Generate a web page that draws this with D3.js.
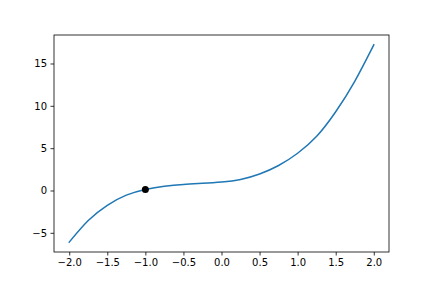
<!DOCTYPE html>
<html>
<head>
<meta charset="utf-8">
<script src="https://cdn.jsdelivr.net/npm/d3@7"></script>
<style>
  html, body { margin: 0; padding: 0; background: #fff; }
  svg { display: block; }
  text { font-family: "DejaVu Sans", sans-serif; }
</style>
</head>
<body>
<svg id="chart" width="432" height="288"></svg>
<script>
// Curve samples
const xValues = [-2.0, -1.75, -1.5, -1.25, -1.0, -0.75, -0.5, -0.25, 0.0, 0.25, 0.5, 0.75, 1.0, 1.25, 1.5, 1.75, 2.0];
const yValues = [-6.1, -3.55, -1.75, -0.55, 0.12, 0.5, 0.72, 0.85, 1.0, 1.3, 1.95, 2.95, 4.4, 6.4, 9.3, 12.9, 17.2];
// Highlighted point
const pointX = [-1.0];
const pointY = [0.12];
// Ticks
const xTicks = [-2.0, -1.5, -1.0, -0.5, 0.0, 0.5, 1.0, 1.5, 2.0];
const yTicks = [-5, 0, 5, 10, 15];

(function () {
const W = 432, H = 288;
const mLeft = 54, mRight = 389, mTop = 35, mBottom = 252;

const xMin = d3.min(xValues), xMax = d3.max(xValues);
const yMin = d3.min(yValues), yMax = d3.max(yValues);
const xPad = (xMax - xMin) * 0.05, yPad = (yMax - yMin) * 0.05;

const x = d3.scaleLinear().domain([xMin - xPad, xMax + xPad]).range([mLeft, mRight]);
const y = d3.scaleLinear().domain([yMin - yPad, yMax + yPad]).range([mBottom, mTop]);

const svg = d3.select("#chart");
svg.append("rect").attr("width", W).attr("height", H).attr("fill", "#fff");

const fmtMinus = s => s.replace("-", "\u2212");

const xAxis = svg.append("g")
  .attr("transform", `translate(0,${mBottom})`)
  .call(d3.axisBottom(x).tickValues(xTicks).tickSize(3.5).tickPadding(3.5)
        .tickFormat(d => fmtMinus(d3.format(".1f")(d))));
const yAxis = svg.append("g")
  .attr("transform", `translate(${mLeft},0)`)
  .call(d3.axisLeft(y).tickValues(yTicks).tickSize(3.5).tickPadding(3.5)
        .tickFormat(d => fmtMinus(d3.format("d")(d))));

[xAxis, yAxis].forEach(g => {
  g.select(".domain").remove();
  g.selectAll(".tick line").attr("stroke", "#000").attr("stroke-width", 0.8);
  g.selectAll(".tick text").attr("fill", "#000").style("font-size", "10px")
    .style("font-family", "'DejaVu Sans', sans-serif");
});

const pts = xValues.map((v, i) => [v, yValues[i]]);
const line = d3.line().x(d => x(d[0])).y(d => y(d[1])).curve(d3.curveNatural);

svg.append("path")
  .datum(pts)
  .attr("d", line)
  .attr("fill", "none")
  .attr("stroke", "#1f77b4")
  .attr("stroke-width", 1.5)
  .attr("stroke-linecap", "square");

svg.selectAll("circle.pt")
  .data(pointX.map((v, i) => [v, pointY[i]]))
  .join("circle")
  .attr("class", "pt")
  .attr("cx", d => x(d[0]))
  .attr("cy", d => y(d[1]))
  .attr("r", 3.5)
  .attr("fill", "#000");

svg.append("rect")
  .attr("x", mLeft).attr("y", mTop)
  .attr("width", mRight - mLeft).attr("height", mBottom - mTop)
  .attr("fill", "none").attr("stroke", "#000").attr("stroke-width", 0.8);
})();
</script>
</body>
</html>
